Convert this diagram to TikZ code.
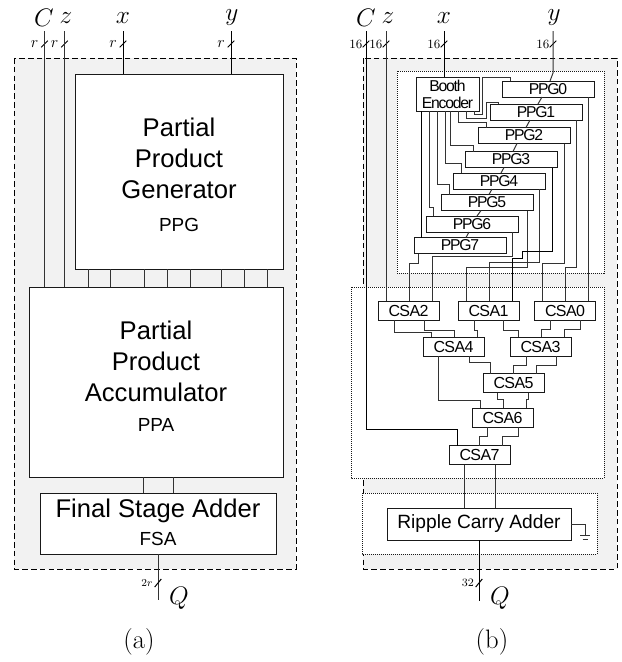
\documentclass[tikz,border=0pt]{standalone}
\usepackage{fix-cm}
\usepackage{fontspec}
\setsansfont{Liberation Sans}
\newfontfamily\tightppg{Liberation Sans}[LetterSpace=-8]
\newfontfamily\tightcsa{Liberation Sans}[LetterSpace=-4]
\usepackage{amsmath}
\usetikzlibrary{calc}
\definecolor{panelgray}{HTML}{F2F2F2}
\tikzset{
  wire/.style={black!80, line width=0.75pt},
  bwire/.style={black, line width=0.75pt},
  panel/.style={draw=black, fill=panelgray, line width=0.75pt, dash pattern=on 4.2pt off 2.4pt},
  dotbox/.style={draw=black!90, fill=white, line width=0.75pt, dash pattern=on 0.75pt off 0.75pt},
  blk/.style 2 args={draw=black!90, fill=white, line width=0.75pt, inner sep=0pt, outer sep=0pt,
    font=\sffamily, align=center, minimum width=#1*0.75pt, minimum height=#2*0.75pt},
  ppgbox/.style={blk={92}{16}, font=\tightppg\fontsize{11.8}{13}\selectfont},
  csabox/.style={blk={61}{19}, font=\tightcsa\fontsize{12}{14}\selectfont},
  bigtxt/.style={inner sep=0pt, align=center, font=\sffamily\fontsize{19.2}{23.2}\selectfont},
  subtxt/.style={inner sep=0pt, font=\sffamily\fontsize{14.2}{17}\selectfont},
  sym/.style={inner sep=0pt, font=\fontsize{19}{21}\selectfont},
  ticklab/.style={inner sep=0pt, font=\fontsize{9.5}{11}\selectfont},
  subcap/.style={inner sep=0pt, font=\fontsize{20}{22}\selectfont},
}
\begin{document}
\begin{tikzpicture}[x=0.75pt, y=-0.75pt]
  \useasboundingbox (0,0) rectangle (622,662);

  % 1. panels and dotted groups
  \draw[panel] (14,58) rectangle (296,569);
  \draw[panel] (363,58) rectangle (617,569);
  \draw[dotbox] (397,71) rectangle (604,273);
  \draw[dotbox] (351,287) rectangle (604,478);
  \draw[dotbox] (362,493) rectangle (597,554);

  % 2. blocks of (a)
  \node[blk={208}{195}] (ppgA) at (179,171.5) {};
  \node[bigtxt] (ppgAt) at (179,158) {Partial\\Product\\Generator};
  \node[subtxt] (ppgAs) at (179,225) {PPG};
  \node[blk={253.5}{190}] (ppaA) at (156.25,382) {};
  \node[bigtxt] (ppaAt) at (156,361) {Partial\\Product\\Accumulator};
  \node[subtxt] (ppaAs) at (156,425) {PPA};
  \node[blk={236}{61}] (fsaA) at (158,523.5) {};
  \node[bigtxt] (fsaAt) at (158,511) {Final Stage Adder};
  \node[subtxt] (fsaAs) at (158,539) {FSA};

  % 3. pins of (a) and (b): name/letter/label x/wire x/tick text/tick size
  \foreach \n/\t/\lx/\cx/\w/\fs in {Ca/C/44/44.5/r/12, za/z/66/64.5/r/12, xa/x/123/123/r/12, ya/y/232/231/r/12,
                                    Cb/C/366/366/16/9.5, zb/z/388/386/16/9.5, xb/x/444/444/16/9.5, yb/y/554/553/16/9.5}{
    \node[sym] (l\n) at (\lx,18) {$\t$};
    \coordinate (p\n) at (\cx,31);
    \node[ticklab, font=\fontsize{\fs}{11}\selectfont] (t\n) at (\cx-10,44) {$\w$};
    \draw[bwire] (\cx-3.3,47.3) -- (\cx+3.3,40.7);
  }

  % 4. wires of (a)
  \draw[wire] (pCa) -- (ppaA.north -| pCa);
  \draw[wire] (pza) -- (ppaA.north -| pza);
  \draw[bwire] (pxa) -- (ppgA.north -| pxa);
  \draw[bwire] (pya) -- (ppgA.north -| pya);
  \foreach \cx in {88,110.5,144,167,190,221,244,267}
    \draw[wire] (ppgA.south -| \cx,0) -- (ppaA.north -| \cx,0);
  \draw[wire] (ppaA.south -| 143,0) -- (fsaA.north -| 143,0);
  \draw[wire] (ppaA.south -| 173,0) -- (fsaA.north -| 173,0);
  \coordinate (qa) at (158,600);
  \draw[wire] (fsaA.south -| qa) -- (qa);
  \draw[bwire] (154.7,587) -- (161.3,579);
  \node[ticklab, font=\fontsize{8}{9}\selectfont] (ta) at (147,583) {$2r$};
  \node[sym] (lqa) at (179,598) {$Q$};
  \node[subcap] (capa) at (139,642) {(a)};

  % 5. blocks of (b)
  \node[blk={63}{34}, font=\tightppg\fontsize{11.8}{12.75}\selectfont] (booth) at (447.5,94) {Booth\\Encoder};
  \foreach \i/\cx/\cy in {0/548/89, 1/536/112, 2/524/135.5, 3/511/159.5, 4/499/181, 5/487/202.5, 6/472/224, 7/460/245.5}
    \node[ppgbox] (ppg\i) at (\cx,\cy) {PPG\i};
  \foreach \i/\cx/\cy in {0/565/310.5, 1/488.5/310.5, 2/408.5/310.5, 3/540.5/346.5, 4/453.5/346.5, 5/513.5/383, 6/502.5/417.5, 7/479.5/455}
    \node[csabox] (csa\i) at (\cx,\cy) {CSA\i};
  \node[blk={184}{32}, font=\sffamily\fontsize{14.4}{17}\selectfont] (rca) at (479,524) {Ripple Carry Adder};

  % 6. inputs of (b)
  \draw[bwire] (pCb) |- (457,429) -- (csa7.north -| 457,0);
  \draw[wire] (pzb) -- (csa2.north -| pzb);
  \draw[bwire] (pxb) -- (booth.north -| pxb);
  \draw[wire] (pyb) -- (553,73) -- (ppg0.north -| 550,0);

  % 7. booth encoder to the PPG rows
  \draw[wire] (booth.south -| 474,0) |- (482,114) |- (510,77) -- (ppg0.north -| 510,0);
  \draw[wire] (booth.south -| 466,0) |- (486,118) |- (498,102) -- (ppg1.north -| 498,0);
  \foreach \i/\ax/\my/\bx in {2/458/122/486, 3/450/145/473, 4/445/163/461, 5/437/184/449, 6/429/207/433}
    \draw[wire] (booth.south -| \ax,0) |- (\bx,\my) -- (ppg\i.north -| \bx,0);
  \draw[bwire] (booth.south -| 421,0) -- (ppg7.north -| 421,0);

  % 8. slanted links between the PPG rows
  \foreach \i/\j/\ax/\bx in {0/1/542/538, 1/2/530/526, 2/3/517/513, 3/4/504/501, 4/5/492/489, 5/6/481/477, 6/7/469/466}
    \draw[wire] (ppg\i.south -| \ax,0) -- (ppg\j.north -| \bx,0);

  % 9. PPG rows down to the first CSA row
  \foreach \i/\ax/\my/\c/\bx in {7/418/263/2/409, 6/512/256/2/432, 5/527/267/1/466, 4/539/262/1/489, 2/564/263/0/542, 1/576/267/0/565}
    \draw[wire] (ppg\i.south -| \ax,0) |- (\bx,\my) -- (csa\c.north -| \bx,0);
  \draw[bwire] (ppg3.south -| 552,0) |- (522,251) |- (512,258) -- (csa1.north -| 512,0);
  \draw[wire] (ppg0.south -| 588,0) -- (csa0.north -| 588,0);

  % 10. CSA tree
  \foreach \a/\ax/\my/\b/\bx in {2/394/332/4/431, 2/424/330/4/454, 1/474/330/3/477, 1/503/330/3/518,
                                 0/550/329/3/541, 0/580/329/3/564, 4/438/400/6/480, 4/469/362/5/490,
                                 3/526/365/5/513, 3/556/365/5/536, 5/497/399/6/503, 5/528/399/6/526,
                                 6/487/436/7/479, 6/518/436/7/502}
    \draw[wire] (csa\a.south -| \ax,0) |- (\bx,\my) -- (csa\b.north -| \bx,0);
  \draw[wire] (csa7.south -| 464,0) -- (rca.north -| 464,0);
  \draw[wire] (csa7.south -| 495,0) -- (rca.north -| 495,0);

  % 11. output and ground of (b)
  \coordinate (qb) at (479,601);
  \coordinate (gnd) at (585,535);
  \draw[bwire] (rca.south -| qb) -- (qb);
  \draw[bwire] (475.7,587) -- (482.3,579);
  \node[ticklab, font=\fontsize{8.5}{10}\selectfont] (tb) at (468,583) {$32$};
  \draw[wire] (rca.east) -| (gnd);
  \draw[wire] (gnd) ++(-5,0) -- ++(10,0);
  \draw[wire] (gnd) ++(-2.5,4) -- ++(5,0);
  \node[sym] (lqb) at (500,598) {$Q$};
  \node[subcap] (capb) at (492,642) {(b)};
\end{tikzpicture}
\end{document}
